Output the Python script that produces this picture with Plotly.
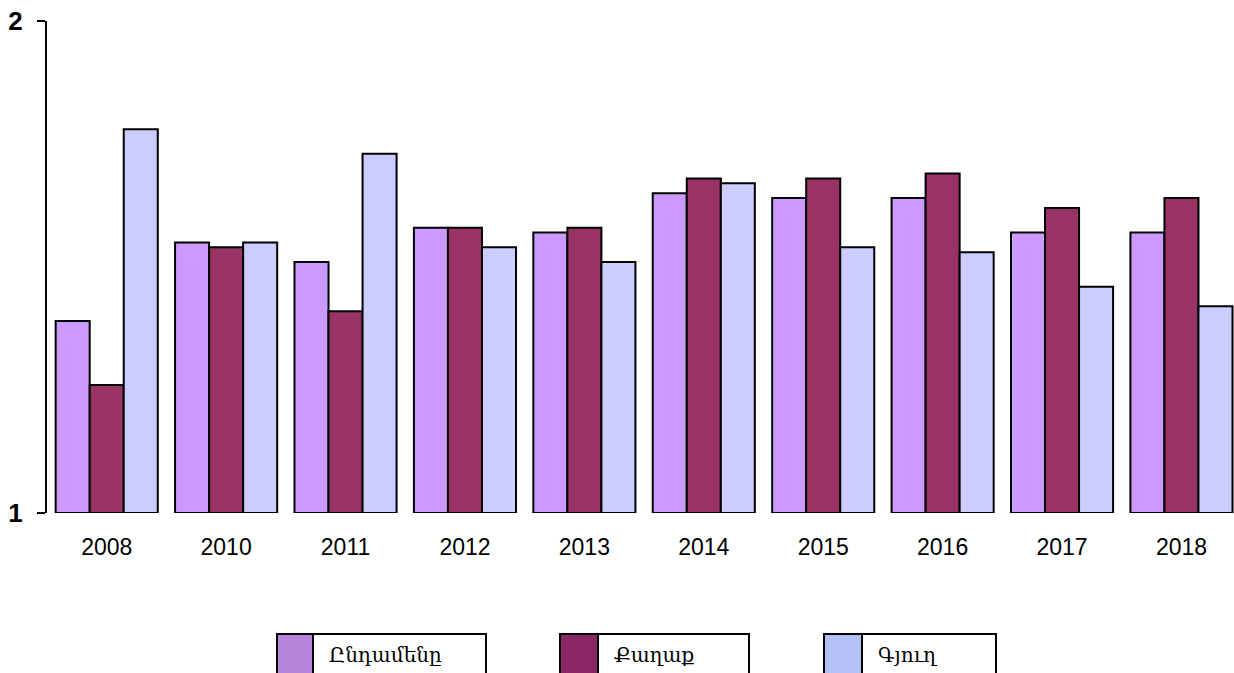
import plotly.graph_objects as go

years = ["2008", "2010", "2011", "2012", "2013", "2014", "2015", "2016", "2017", "2018"]
series_names = ["Ընդամենը", "Քաղաք", "Գյուղ"]
total = [1.39, 1.55, 1.51, 1.58, 1.57, 1.65, 1.64, 1.64, 1.57, 1.57]
urban = [1.26, 1.54, 1.41, 1.58, 1.58, 1.68, 1.68, 1.69, 1.62, 1.64]
rural = [1.78, 1.55, 1.73, 1.54, 1.51, 1.67, 1.54, 1.53, 1.46, 1.42]
y_ticks = [1, 2]

bar_colors = ["#cc99ff", "#993366", "#ccccff"]
legend_colors = ["#b584d8", "#8b2766", "#b4bff5"]

BASE = 1
fig = go.Figure()
for name, vals, col in zip(series_names, [total, urban, rural], bar_colors):
    fig.add_trace(go.Bar(
        x=years, y=[v - BASE for v in vals], base=BASE, name=name,
        marker=dict(color=col, line=dict(color="black", width=2)),
        showlegend=False,
    ))

W, H = 1234, 673
ml, mr, mt = 47, 0, 21
mb = H - 513
pw, ph = W - ml - mr, H - mt - mb

def px_x(p):
    return (p - ml) / pw

def px_y(p):
    return (H - mb - p) / ph

shapes = []
annotations = []
cells = [(277, 313, 486), (560, 598, 749), (824, 862, 996)]
for (l, s, r), name, col in zip(cells, series_names, legend_colors):
    shapes.append(dict(type="rect", xref="paper", yref="paper",
                       x0=px_x(l), x1=px_x(s), y0=px_y(634), y1=px_y(690),
                       fillcolor=col, line=dict(width=0), layer="above"))
    shapes.append(dict(type="rect", xref="paper", yref="paper",
                       x0=px_x(l), x1=px_x(r), y0=px_y(634), y1=px_y(690),
                       fillcolor="rgba(0,0,0,0)", line=dict(color="black", width=2)))
    shapes.append(dict(type="line", xref="paper", yref="paper",
                       x0=px_x(s), x1=px_x(s), y0=px_y(634), y1=px_y(690),
                       line=dict(color="black", width=2)))
    annotations.append(dict(text=name, xref="paper", yref="paper",
                            x=px_x(s + 14), y=px_y(655), xanchor="left", yanchor="middle",
                            showarrow=False, font=dict(family="DejaVu Serif", size=20, color="black")))

fig.update_layout(
    width=W, height=H,
    margin=dict(l=ml, r=mr, t=mt, b=mb),
    paper_bgcolor="white", plot_bgcolor="white",
    barmode="group", bargap=0.145, bargroupgap=0,
    shapes=shapes, annotations=annotations,
    xaxis=dict(range=[-0.5, 9.44], showline=False, showgrid=False, ticks="",
               tickfont=dict(family="Arial", size=23, color="black"),
               ticklabelstandoff=18),
    yaxis=dict(range=[1, 2], tickvals=y_ticks, ticktext=[str(t) for t in y_ticks],
               showline=True, linecolor="black", linewidth=2, showgrid=False, zeroline=False,
               ticks="outside", ticklen=8, tickwidth=2, tickcolor="black",
               tickfont=dict(family="Arial", size=26, color="black", weight="bold"),
               ticklabelstandoff=9, ticklabeloverflow="allow"),
)
fig.write_html(
    "out.html",
    config={"displayModeBar": False},
    post_script="document.body.style.margin='0';document.body.style.overflow='hidden';",
)
